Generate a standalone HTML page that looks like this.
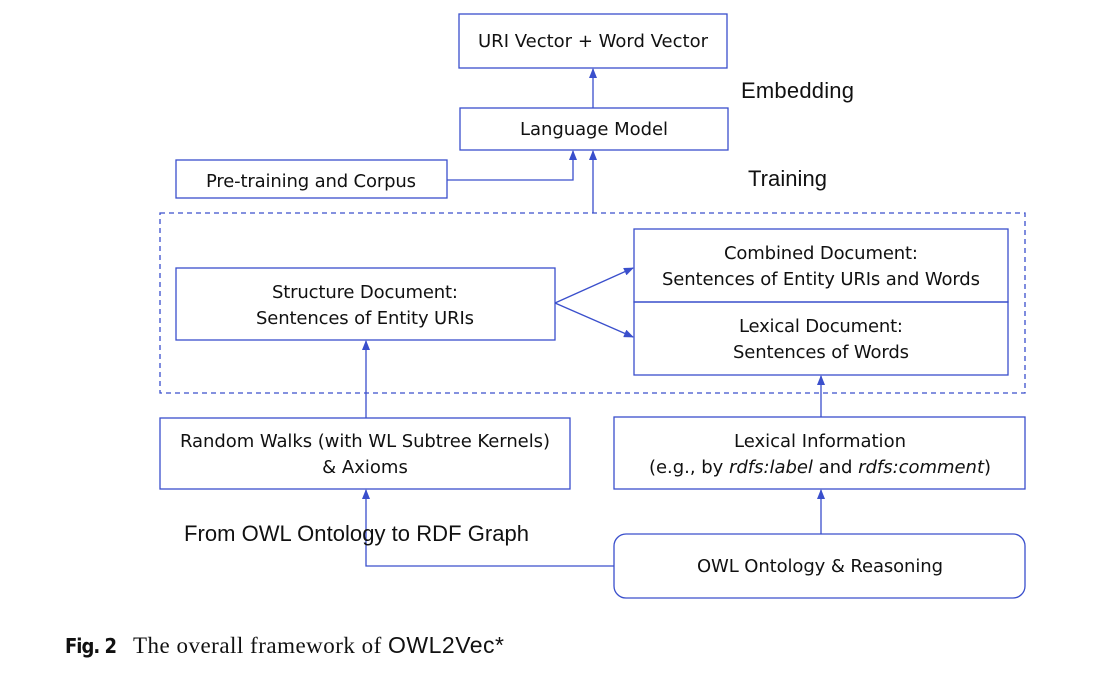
<!DOCTYPE html>
<html><head><style>
body{margin:0;background:#fff;}
svg text{font-family:"DejaVu Sans","Liberation Sans",sans-serif;fill:#111;}
.s{font-family:"Liberation Sans",sans-serif !important;}
</style></head><body>
<svg width="1110" height="684" xmlns="http://www.w3.org/2000/svg">
<defs><marker id="a" markerWidth="10" markerHeight="8" refX="9" refY="4" orient="auto" markerUnits="userSpaceOnUse"><path d="M0,0 L10,4 L0,8z" fill="#3a4fcc"/></marker></defs>
<g fill="none" stroke="#3a4fcc" stroke-width="1.3">
<rect x="459" y="14" width="268" height="54"/>
<rect x="460" y="108" width="268" height="42"/>
<rect x="176" y="160" width="271" height="38"/>
<rect x="160" y="213" width="865" height="180" stroke-dasharray="5,4"/>
<rect x="176" y="268" width="379" height="72"/>
<rect x="634" y="229" width="374" height="73"/>
<rect x="634" y="302" width="374" height="73"/>
<rect x="160" y="418" width="410" height="71"/>
<rect x="614" y="417" width="411" height="72"/>
<rect x="614" y="534" width="411" height="64" rx="12"/>
<path d="M593,108 V69" marker-end="url(#a)"/>
<path d="M447,180 H573 V151" marker-end="url(#a)"/>
<path d="M593,213 V151" marker-end="url(#a)"/>
<path d="M555,303 L633,268" marker-end="url(#a)"/>
<path d="M555,303 L633,337" marker-end="url(#a)"/>
<path d="M366,418 V341" marker-end="url(#a)"/>
<path d="M821,417 V376" marker-end="url(#a)"/>
<path d="M821,534 V490" marker-end="url(#a)"/>
<path d="M614,566 H366 V490" marker-end="url(#a)"/>
</g>
<g font-size="18" text-anchor="middle">
<text x="593" y="47" textLength="230">URI Vector + Word Vector</text>
<text x="594" y="135" textLength="148">Language Model</text>
<text x="311" y="187" textLength="210">Pre-training and Corpus</text>
<text x="365" y="298" textLength="186">Structure Document:</text>
<text x="365" y="324" textLength="218">Sentences of Entity URIs</text>
<text x="821" y="259" textLength="194">Combined Document:</text>
<text x="821" y="285" textLength="318">Sentences of Entity URIs and Words</text>
<text x="821" y="332" textLength="164">Lexical Document:</text>
<text x="821" y="358" textLength="176">Sentences of Words</text>
<text x="365" y="447" textLength="370">Random Walks (with WL Subtree Kernels)</text>
<text x="365" y="473">&amp; Axioms</text>
<text x="820" y="447" textLength="172">Lexical Information</text>
<text x="820" y="473" textLength="342">(e.g., by <tspan font-style="italic">rdfs:label</tspan> and <tspan font-style="italic">rdfs:comment</tspan>)</text>
<text x="820" y="572" textLength="246">OWL Ontology &amp; Reasoning</text>
</g>
<g font-size="22">
<text class="s" x="741" y="98" textLength="113">Embedding</text>
<text class="s" x="748" y="186" textLength="79">Training</text>
<text class="s" x="184" y="541" textLength="345">From OWL Ontology to RDF Graph</text>
</g>
<text x="65" y="653" font-size="20" font-weight="bold" textLength="52" style="font-family:'DejaVu Sans Condensed','DejaVu Sans',sans-serif">Fig. 2</text>
<text x="133" y="653" font-size="23" style="font-family:'Liberation Serif',serif" textLength="371">The overall framework of <tspan style="font-family:'Liberation Sans',sans-serif">OWL2Vec*</tspan></text>
</svg>
</body></html>
